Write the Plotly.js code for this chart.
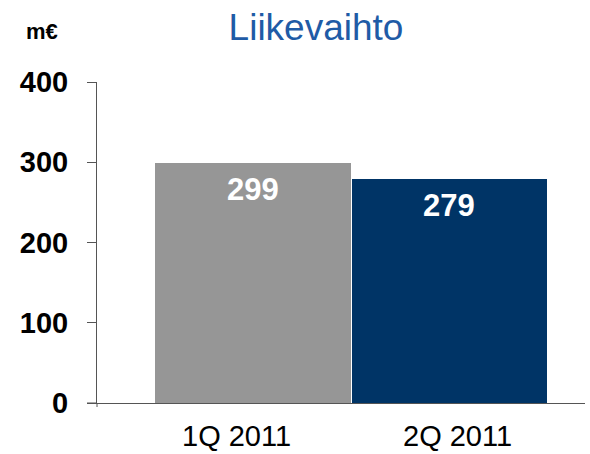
<!DOCTYPE html>
<html><head><meta charset="utf-8">
<script src="https://cdn.plot.ly/plotly-3.0.1.min.js"></script>
<style>html,body{margin:0;padding:0;background:#fff;}#chart{width:590px;height:454px;}</style>
</head><body><div id="chart"></div>
<script>
const categories = ["1Q 2011", "2Q 2011"];
const values = [299, 279];
const barColors = ["#969696", "#003466"];
const valueLabels = ["299", "279"];
const yTicks = [0, 100, 200, 300, 400];
const titleText = "Liikevaihto";
const unitText = "m€";

const L = 97, R = 5, T = 82, B = 51;
const W = 590, H = 454;
const plotW = W - L - R, plotH = H - T - B;
const FONT = "Liberation Sans, Arial, sans-serif";
const labelShift = [-16, 8];

const trace = {
  type: "bar",
  x: categories,
  y: values,
  marker: {color: barColors, line: {width: 0}},
  width: 0.995,
  hoverinfo: "none"
};

const annotations = categories.map((c, i) => ({
  x: c, y: values[i], xref: "x", yref: "y",
  text: "<b>" + valueLabels[i] + "</b>",
  showarrow: false, yanchor: "middle", yshift: -26,
  font: {family: FONT, size: 31, color: "#ffffff"}
}));
categories.forEach((c, i) => annotations.push({
  x: c, y: 0, xref: "x", yref: "y",
  text: c, showarrow: false, yanchor: "top", yshift: -15, xshift: labelShift[i],
  font: {family: FONT, size: 29, color: "#000000"}
}));
annotations.push({
  xref: "paper", yref: "paper",
  x: (42 - L) / plotW, y: (H - B - 31) / plotH,
  text: "<b>" + unitText + "</b>", showarrow: false,
  xanchor: "center", yanchor: "middle",
  font: {family: FONT, size: 22, color: "#000000"}
});

const layout = {
  width: W, height: H,
  margin: {l: L, r: R, t: T, b: B, pad: 0},
  paper_bgcolor: "#ffffff", plot_bgcolor: "#ffffff",
  showlegend: false,
  bargap: 0,
  title: {
    text: titleText,
    x: 316 / W, xref: "container", xanchor: "center",
    y: 1 - 27 / H, yref: "container", yanchor: "middle",
    font: {family: FONT, size: 37, color: "#1F5BA6"}
  },
  xaxis: {
    type: "category",
    range: [-0.794, 1.69],
    showgrid: false, zeroline: false,
    showline: true, linecolor: "#555555", linewidth: 1,
    ticks: "", showticklabels: false
  },
  yaxis: {
    range: [0, 400],
    tickvals: yTicks,
    showgrid: false, zeroline: false,
    showline: true, linecolor: "#555555", linewidth: 1,
    ticks: "outside", ticklen: 9, tickcolor: "#555555",
    tickfont: {family: FONT, size: 29, color: "#000000", weight: "bold"},
    ticklabelstandoff: 13
  },
  shapes: [
    {type: "line", xref: "paper", yref: "paper", x0: -10 / plotW, x1: 0, y0: 0, y1: 0,
     line: {color: "#555555", width: 1}},
    {type: "line", xref: "paper", yref: "paper", x0: 0, x1: 0, y0: -4 / plotH, y1: 0,
     line: {color: "#555555", width: 1}}
  ],
  annotations: annotations
};

Plotly.newPlot("chart", [trace], layout, {displayModeBar: false, staticPlot: true});
</script>
</body></html>
